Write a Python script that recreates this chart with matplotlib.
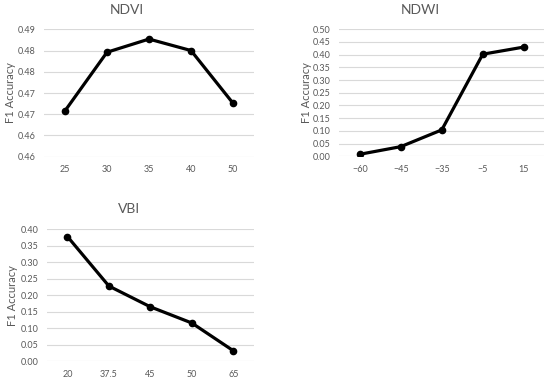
import matplotlib.pyplot as plt

plt.rcParams['font.family'] = ['Lato', 'DejaVu Sans']

grey = '#595959'

ndvi_x = ['25', '30', '35', '40', '50']
ndvi_y = [0.4708, 0.4846, 0.4877, 0.4850, 0.4726]
ndvi_ticks = [0.46, 0.465, 0.47, 0.475, 0.48, 0.485, 0.49]
ndvi_labels = ['0.46', '0.46', '0.47', '0.47', '0.48', '0.48', '0.49']

ndwi_x = ['\u221260', '\u221245', '\u221235', '\u22125', '15']
ndwi_y = [0.008, 0.038, 0.104, 0.402, 0.430]
ndwi_ticks = [0.0, 0.05, 0.10, 0.15, 0.20, 0.25, 0.30, 0.35, 0.40, 0.45, 0.50]

vbi_x = ['20', '37.5', '45', '50', '65']
vbi_y = [0.378, 0.228, 0.165, 0.116, 0.032]
vbi_ticks = [0.0, 0.05, 0.10, 0.15, 0.20, 0.25, 0.30, 0.35, 0.40]


def draw(ax, cats, vals, ticks, labels, title, title_x, title_y, ylab_x):
    pos = range(len(cats))
    ax.plot(pos, vals, color='black', lw=2.3, marker='o', ms=4.5)
    ax.set_xlim(-0.5, len(cats) - 0.5)
    ax.set_ylim(ticks[0], ticks[-1])
    ax.set_xticks(list(pos))
    ax.set_xticklabels(cats)
    ax.set_yticks(ticks)
    ax.set_yticklabels(labels)
    ax.yaxis.grid(True, color='#d9d9d9', lw=0.8)
    ax.set_axisbelow(True)
    for s in ax.spines.values():
        s.set_visible(False)
    ax.tick_params(length=0, labelsize=6.5, colors=grey, pad=6)
    ax.set_ylabel('F1 Accuracy', fontsize=8, color=grey)
    ax.yaxis.set_label_coords(ylab_x, 0.5)
    ax.figure.text(title_x, title_y, title, fontsize=10, color=grey,
                   ha='center', va='center')


fig = plt.figure(figsize=(5.5, 3.78), dpi=100)

ax1 = fig.add_axes([0.08, 0.5854, 0.3818, 0.3371])
draw(ax1, ndvi_x, ndvi_y, ndvi_ticks, ndvi_labels, 'NDVI',
     127 / 550, 1 - 10 / 378, -0.135)

ax2 = fig.add_axes([0.6169, 0.5865, 0.3727, 0.336])
draw(ax2, ndwi_x, ndwi_y, ndwi_ticks, ['%.2f' % t for t in ndwi_ticks], 'NDWI',
     420.7 / 550, 1 - 10 / 378, -0.133)

ax3 = fig.add_axes([0.0849, 0.0442, 0.377, 0.3492])
draw(ax3, vbi_x, vbi_y, vbi_ticks, ['%.2f' % t for t in vbi_ticks], 'VBI',
     128.7 / 550, 1 - 209.3 / 378, -0.137)

fig.savefig('out.png', dpi=100)
